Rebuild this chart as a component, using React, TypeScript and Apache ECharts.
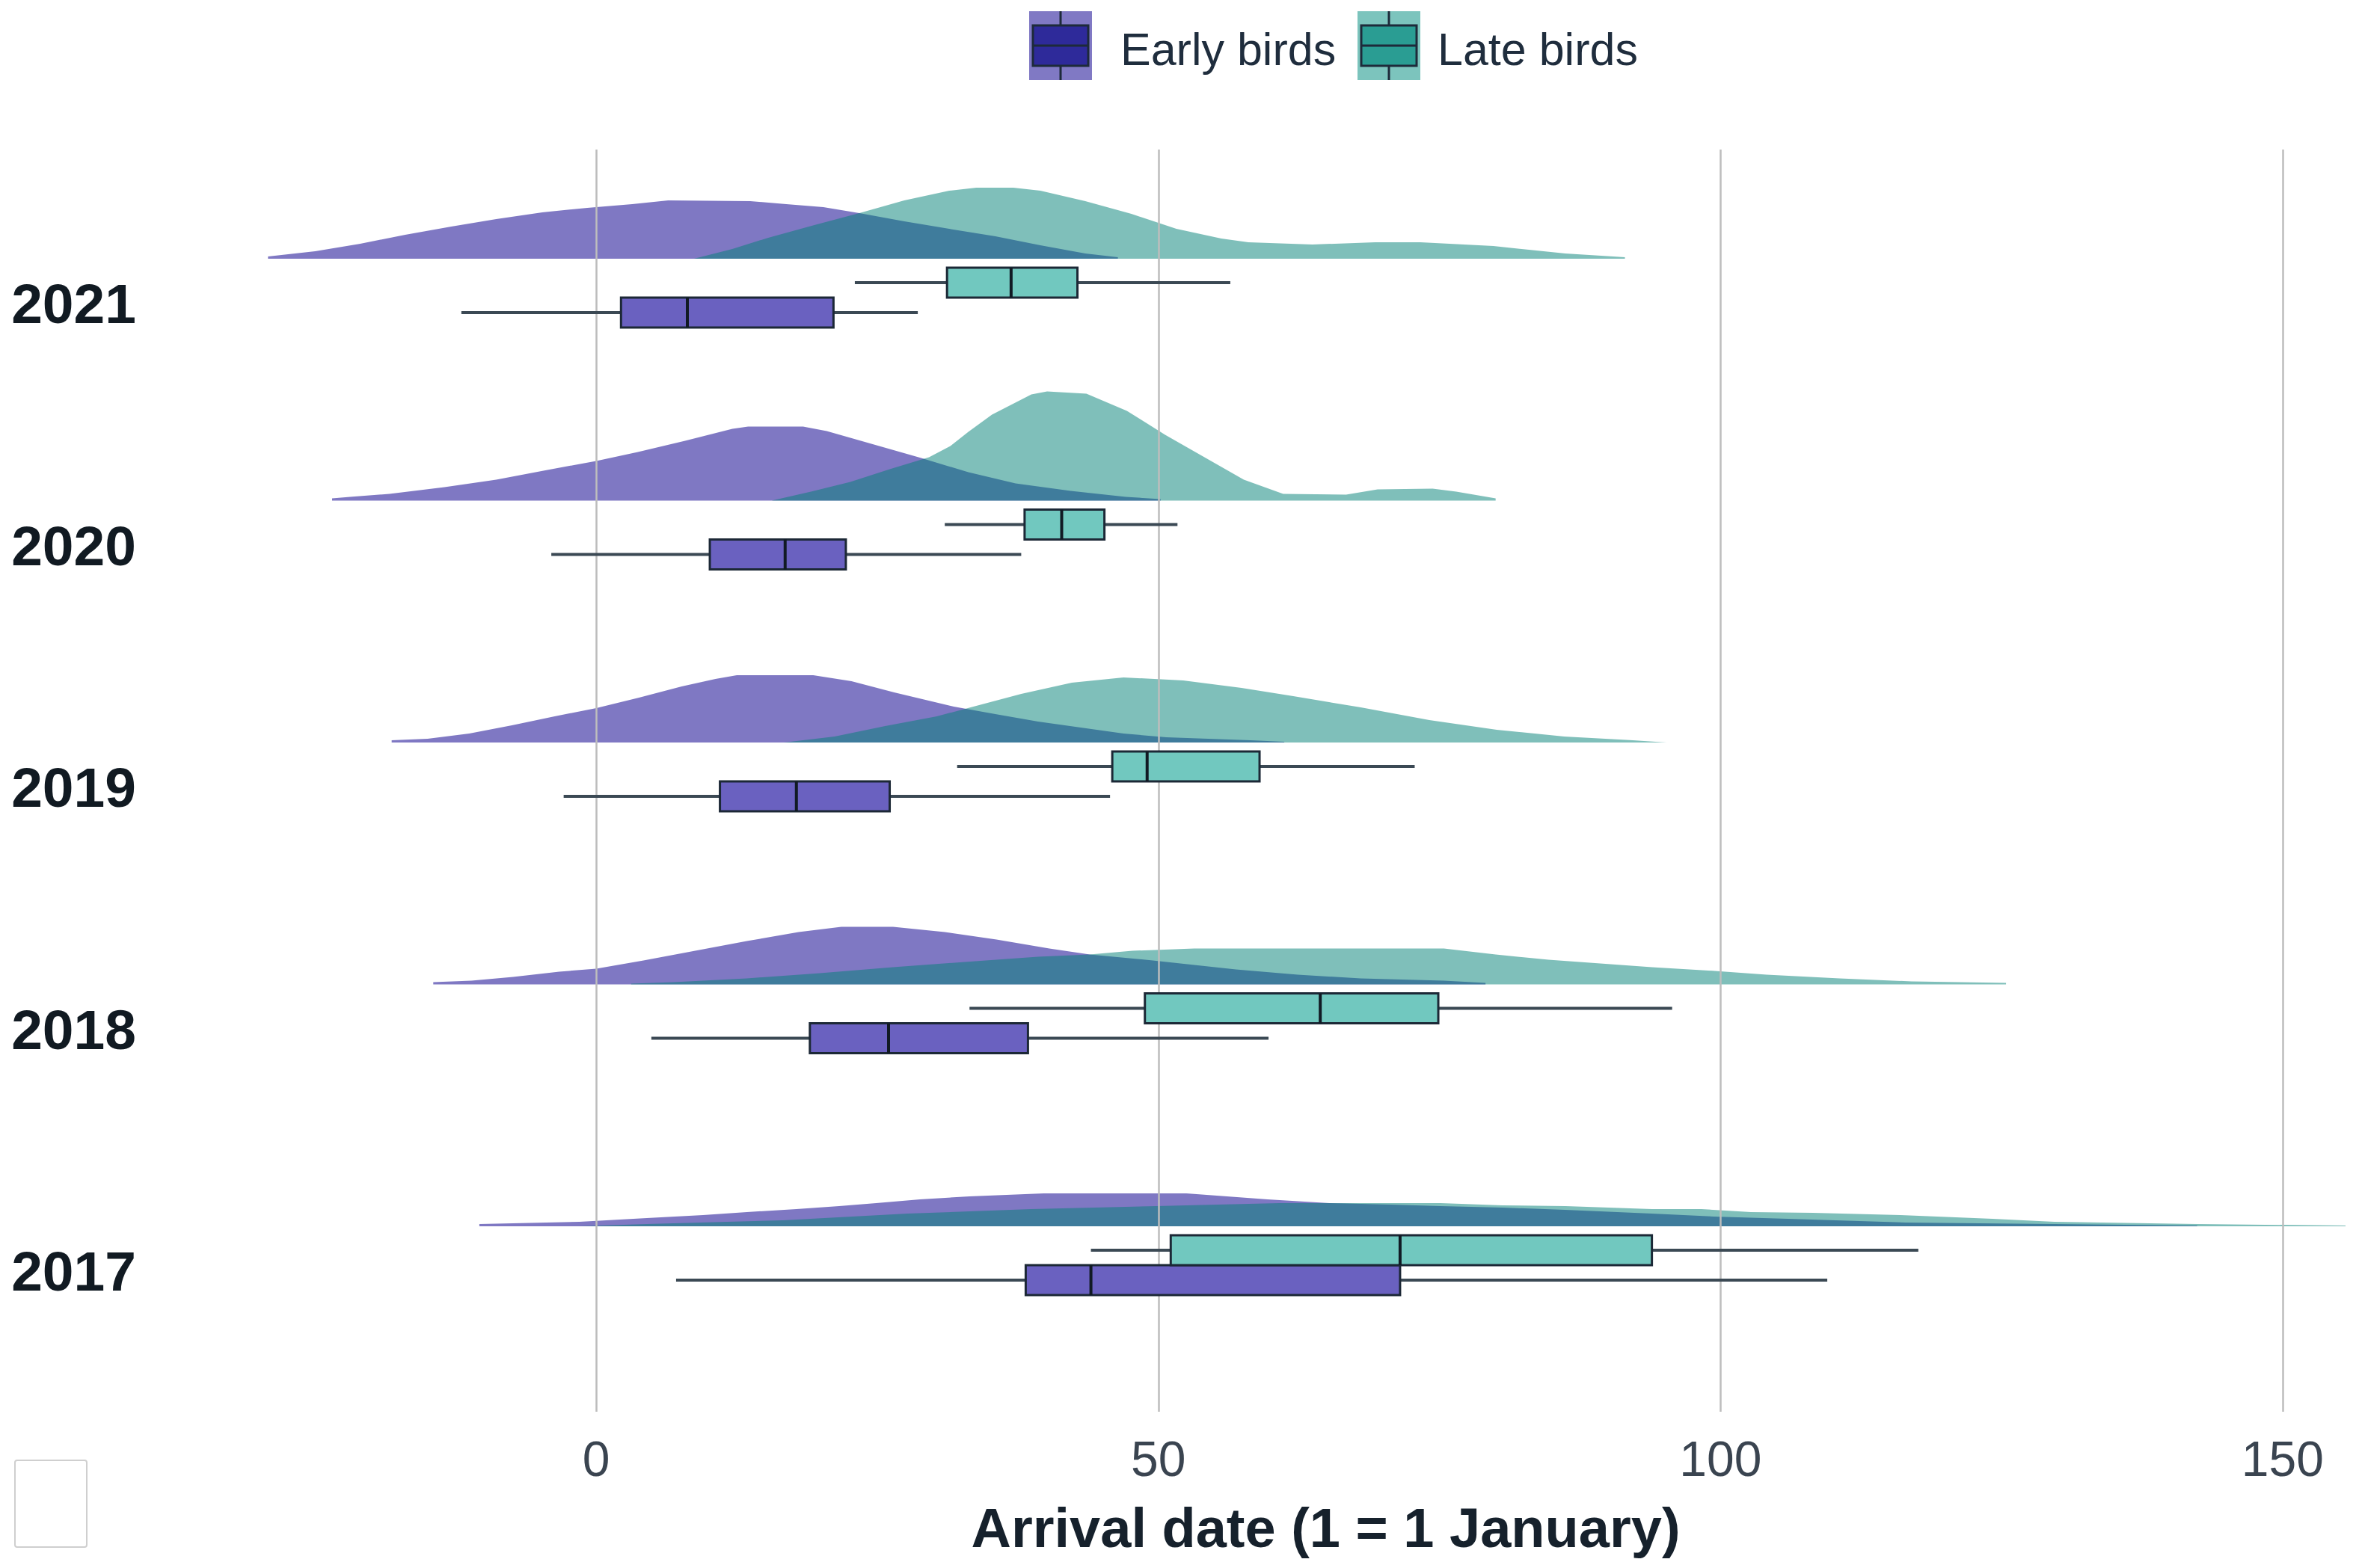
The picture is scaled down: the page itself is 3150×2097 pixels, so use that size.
import React, { useEffect, useRef } from "react";
import * as echarts from "echarts";

// ---------- data ----------
const yearLabels = ["2017", "2018", "2019", "2020", "2021"];
const gridValues = [0, 50, 100, 150];
const tickValues = [0, 50, 100, 150];

// box plots: [yearIndex, lowWhisker, Q1, median, Q3, highWhisker]
const earlyBoxes = [
  [0, 7.1, 38.2, 44.0, 71.5, 109.5],
  [1, 4.9, 19.0, 26.0, 38.4, 59.8],
  [2, -2.9, 11.0, 17.8, 26.1, 45.7],
  [3, -4.0, 10.1, 16.8, 22.2, 37.8],
  [4, -12.0, 2.2, 8.1, 21.1, 28.6],
];
const lateBoxes = [
  [0, 44.0, 51.1, 71.5, 93.9, 117.6],
  [1, 33.2, 48.8, 64.4, 74.9, 95.7],
  [2, 32.1, 45.9, 49.0, 59.0, 72.8],
  [3, 31.0, 38.1, 41.4, 45.2, 51.7],
  [4, 23.0, 31.2, 36.9, 42.8, 56.4],
];

// densities: [arrival day, relative density]
const early2021 = [[-29.2,0],[-29.2,0.03],[-25.0,0.10],[-21.0,0.20],[-17.0,0.32],[-12.9,0.43],[-8.9,0.53],[-4.8,0.62],[-0.8,0.68],[3.2,0.73],[6.4,0.78],[13.7,0.77],[16.9,0.73],[20.2,0.69],[23.4,0.61],[27.4,0.50],[31.4,0.40],[35.5,0.30],[39.5,0.18],[43.5,0.07],[46.4,0.02],[46.4,0]];
const late2021 = [[8.7,0],[12.1,0.13],[15.3,0.28],[19.4,0.45],[23.4,0.61],[27.4,0.78],[31.4,0.91],[33.8,0.95],[37.1,0.95],[39.5,0.91],[43.5,0.77],[47.6,0.60],[51.6,0.40],[55.6,0.27],[58.0,0.22],[63.7,0.19],[69.3,0.22],[73.3,0.22],[79.8,0.17],[86.2,0.07],[91.5,0.02],[91.5,0]];
const early2020 = [[-23.5,0],[-23.5,0.03],[-21.9,0.05],[-18.4,0.09],[-13.5,0.18],[-8.9,0.28],[-4.7,0.40],[0,0.53],[3.7,0.65],[7.9,0.80],[12.1,0.96],[13.5,0.99],[18.4,0.99],[20.5,0.93],[24.0,0.78],[28.9,0.57],[33.1,0.38],[37.3,0.23],[42.2,0.13],[47.1,0.05],[50.2,0.02],[50.2,0]];
const late2020 = [[15.6,0],[19.1,0.12],[22.6,0.25],[26.1,0.42],[29.6,0.58],[31.5,0.73],[33.1,0.92],[35.2,1.15],[38.7,1.42],[40.1,1.46],[43.6,1.43],[47.2,1.20],[50.6,0.88],[54.1,0.58],[57.6,0.28],[61.1,0.09],[66.7,0.08],[69.5,0.15],[74.4,0.16],[76.5,0.12],[80.0,0.03],[80.0,0]];
const early2019 = [[-18.2,0],[-18.2,0.03],[-15.0,0.05],[-11.3,0.12],[-7.5,0.23],[-3.7,0.35],[0,0.46],[3.8,0.60],[7.6,0.75],[10.6,0.85],[12.5,0.90],[19.3,0.90],[22.7,0.82],[26.5,0.67],[31.8,0.48],[35.5,0.38],[39.3,0.28],[43.1,0.20],[46.9,0.12],[50.7,0.07],[58.2,0.03],[61.2,0.01],[61.2,0]];
const late2019 = [[16.7,0],[21.2,0.08],[25.7,0.22],[30.3,0.35],[33.3,0.47],[37.8,0.65],[42.3,0.80],[46.9,0.87],[52.2,0.83],[57.4,0.73],[62.0,0.62],[68.0,0.47],[74.1,0.30],[80.1,0.17],[86.1,0.08],[92.2,0.03],[95.2,0]];
const early2018 = [[-14.5,0],[-14.5,0.03],[-11.1,0.05],[-7.4,0.10],[-3.3,0.17],[0,0.21],[4.2,0.32],[8.8,0.45],[13.4,0.58],[18.0,0.70],[21.8,0.77],[26.4,0.77],[31.0,0.70],[35.6,0.60],[40.3,0.48],[43.9,0.40],[49.5,0.32],[56.9,0.20],[62.4,0.13],[68.0,0.08],[75.4,0.05],[79.1,0.02],[79.1,0]];
const late2018 = [[3.1,0],[3.1,0.01],[6.9,0.03],[13.4,0.08],[19.9,0.15],[26.4,0.23],[32.8,0.30],[39.3,0.37],[43.9,0.40],[47.7,0.45],[53.2,0.48],[75.4,0.48],[80.0,0.40],[84.7,0.33],[89.3,0.28],[93.9,0.23],[99.5,0.18],[104.1,0.13],[110.6,0.08],[117.0,0.04],[125.4,0.02],[125.4,0]];
const early2017 = [[-10.4,0],[-10.4,0.03],[-1.5,0.06],[4.5,0.11],[9.5,0.15],[13.4,0.19],[17.8,0.23],[21.6,0.27],[24.9,0.31],[28.8,0.36],[33.2,0.40],[39.8,0.44],[52.5,0.44],[59.7,0.36],[65.2,0.31],[70.7,0.29],[75.1,0.27],[80.6,0.25],[86.2,0.22],[93.9,0.17],[99.4,0.13],[106.0,0.10],[116.5,0.05],[129.7,0.03],[142.4,0.01],[142.4,0]];
const late2017 = [[-1.6,0],[4.5,0.03],[16.6,0.08],[27.7,0.17],[38.7,0.23],[49.8,0.27],[60.8,0.31],[65.2,0.31],[75.1,0.31],[80.6,0.28],[86.2,0.27],[93.9,0.23],[98.3,0.23],[102.7,0.19],[108.2,0.18],[116.0,0.15],[124.2,0.10],[129.7,0.06],[142.4,0.03],[155.6,0.01],[155.6,0]];

const earlyDensities = [early2017, early2018, early2019, early2020, early2021];
const lateDensities = [late2017, late2018, late2019, late2020, late2021];

// ---------- layout / style ----------
const FONT = 'Arial, "Liberation Sans", Helvetica, sans-serif';
const BASE_OFF = 0.1855; // density baseline above year label
const DENS_SCALE = 0.3091; // y-units per density unit
const LATE_OFF = 0.0866;
const EARLY_OFF = -0.037;
const BOX_H = 0.1236;

const EARLY_AREA = "#0e008e";
const LATE_AREA = "#008076";
const EARLY_BOX = "#6a61c0";
const LATE_BOX = "#71c8bf";

function boxRenderer(off: number, fill: string) {
  return (params: any, api: any) => {
    const k = api.value(0);
    const cy = api.coord([0, k + off])[1];
    const h = api.size([0, BOX_H])[1];
    const xs = [1, 2, 3, 4, 5].map((i) => api.coord([api.value(i), k])[0]);
    const wStyle = { stroke: "#3b4954", lineWidth: 4 };
    return {
      type: "group",
      children: [
        { type: "line", shape: { x1: xs[0], y1: cy, x2: xs[1], y2: cy }, style: wStyle },
        { type: "line", shape: { x1: xs[3], y1: cy, x2: xs[4], y2: cy }, style: wStyle },
        {
          type: "rect",
          shape: { x: xs[1], y: cy - h / 2, width: xs[3] - xs[1], height: h },
          style: { fill, stroke: "#1c2836", lineWidth: 3 },
        },
        {
          type: "line",
          shape: { x1: xs[2], y1: cy - h / 2, x2: xs[2], y2: cy + h / 2 },
          style: { stroke: "#111a24", lineWidth: 4 },
        },
      ],
    };
  };
}

function densitySeries(arr: number[][], k: number, color: string, opacity: number, name: string) {
  const base = k + BASE_OFF;
  return {
    type: "line",
    name,
    silent: true,
    symbol: "none",
    showSymbol: false,
    data: arr.map(([x, d]) => [x, base + d * DENS_SCALE]),
    lineStyle: { width: 0 },
    areaStyle: { color, opacity, origin: base },
    z: 2,
  };
}

function legendIcon(x: number, outer: string, inner: string) {
  return {
    type: "group",
    children: [
      { type: "rect", shape: { x, y: 7, width: 84, height: 92 }, style: { fill: outer } },
      { type: "line", shape: { x1: x + 42, y1: 7, x2: x + 42, y2: 26 }, style: { stroke: "#1d2a3a", lineWidth: 3 } },
      { type: "line", shape: { x1: x + 42, y1: 80, x2: x + 42, y2: 99 }, style: { stroke: "#1d2a3a", lineWidth: 3 } },
      { type: "rect", shape: { x: x + 5, y: 26, width: 74, height: 54 }, style: { fill: inner, stroke: "#1d2a3a", lineWidth: 3 } },
      { type: "line", shape: { x1: x + 5, y1: 53, x2: x + 79, y2: 53 }, style: { stroke: "#1d2a3a", lineWidth: 3 } },
    ],
  };
}

export default function App() {
  const ref = useRef<HTMLDivElement>(null);
  useEffect(() => {
    if (!ref.current) return;
    const chart = echarts.init(ref.current, null, { renderer: "svg" });
    const series: any[] = [];
    series.push({
      type: "line",
      name: "grid",
      silent: true,
      data: [],
      markLine: {
        silent: true,
        symbol: ["none", "none"],
        label: { show: false },
        lineStyle: { color: "#bdbdbd", width: 2.5, type: "solid" },
        data: gridValues.map((v) => ({ xAxis: v })),
      },
      z: 1,
    });
    earlyDensities.forEach((arr, k) => series.push(densitySeries(arr, k, EARLY_AREA, 0.53, "Early birds")));
    lateDensities.forEach((arr, k) => series.push(densitySeries(arr, k, LATE_AREA, 0.5, "Late birds")));
    series.push({
      type: "custom",
      name: "Early birds",
      silent: true,
      clip: false,
      data: earlyBoxes,
      encode: { x: [1, 2, 3, 4, 5], y: 0 },
      renderItem: boxRenderer(EARLY_OFF, EARLY_BOX),
      z: 5,
    });
    series.push({
      type: "custom",
      name: "Late birds",
      silent: true,
      clip: false,
      data: lateBoxes,
      encode: { x: [1, 2, 3, 4, 5], y: 0 },
      renderItem: boxRenderer(LATE_OFF, LATE_BOX),
      z: 6,
    });

    chart.setOption({
      animation: false,
      backgroundColor: "#ffffff",
      textStyle: { fontFamily: FONT },
      grid: { left: 188, right: 3, top: 192, bottom: 201, containLabel: false, outerBoundsMode: "none" },
      xAxis: {
        type: "value",
        min: -40,
        max: 155.8,
        axisLine: { show: false },
        axisTick: { show: false },
        splitLine: { show: false },
        axisLabel: {
          customValues: tickValues,
          fontSize: 66,
          color: "#3a4450",
          margin: 30,
          fontFamily: FONT,
        },
        name: "Arrival date (1 = 1 January)",
        nameLocation: "middle",
        nameGap: 118,
        nameTextStyle: {
          fontSize: 74,
          fontWeight: "bold",
          color: "#16212c",
          fontFamily: FONT,
          padding: [0, 0, 0, 210],
        },
      },
      yAxis: {
        type: "value",
        min: -0.5811,
        max: 4.6368,
        axisLine: { show: false },
        axisTick: { show: false },
        splitLine: { show: false },
        axisLabel: {
          customValues: [0, 1, 2, 3, 4],
          formatter: (v: number) => yearLabels[Math.round(v)] ?? "",
          fontSize: 75,
          fontWeight: "bold",
          color: "#111a22",
          margin: 14,
          fontFamily: FONT,
        },
      },
      graphic: [
        legendIcon(1368, "#8079c4", "#2e2a9a"),
        {
          type: "text",
          x: 1490,
          y: 58,
          style: { text: "Early birds", fontSize: 61, fontFamily: FONT, fill: "#1f2d3d", verticalAlign: "middle" },
        },
        legendIcon(1807, "#7cc4bd", "#2a9d93"),
        {
          type: "text",
          x: 1914,
          y: 58,
          style: { text: "Late birds", fontSize: 61, fontFamily: FONT, fill: "#1f2d3d", verticalAlign: "middle" },
        },
        {
          type: "rect",
          shape: { x: 12, y: 1945, width: 96, height: 116, r: 3 },
          style: { fill: "#ffffff", stroke: "#cfcfcf", lineWidth: 2 },
        },
      ],
      series,
    });
    return () => chart.dispose();
  }, []);
  return <div ref={ref} style={{ width: 3134, height: 2081 }} />;
}
